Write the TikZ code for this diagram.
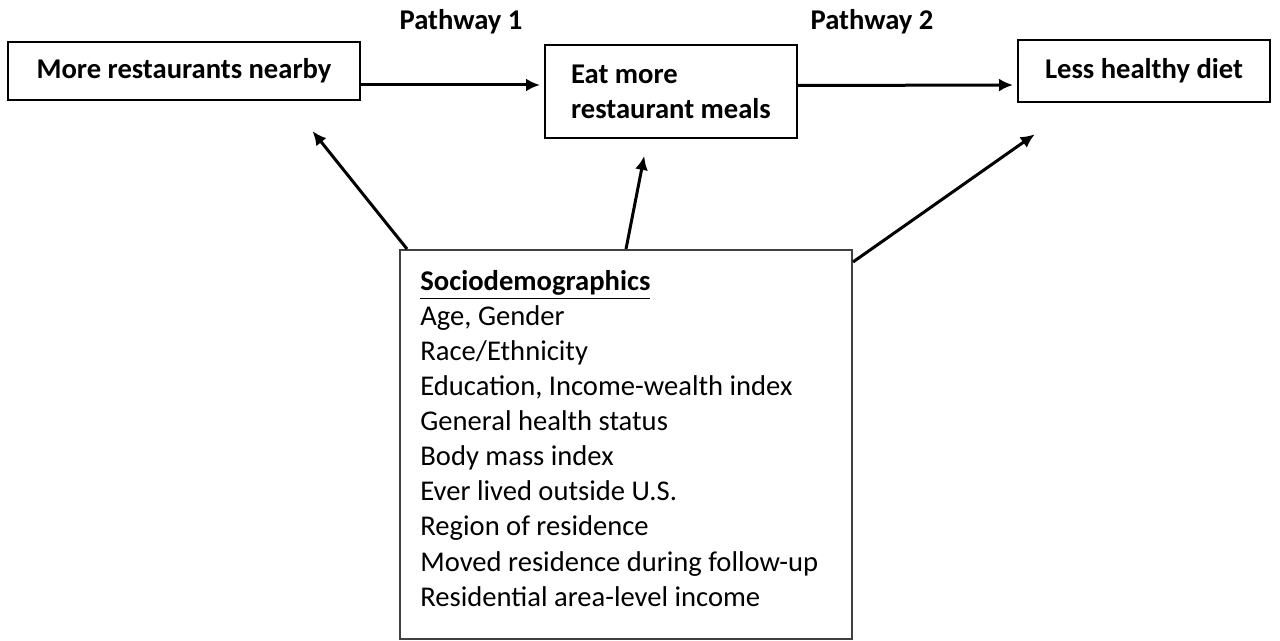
\documentclass[tikz,border=0pt]{standalone}
\usepackage{fontspec}
\setmainfont{Carlito}
\usepackage{tikz}
\usetikzlibrary{arrows.meta}

\tikzset{
  box/.style={draw, line width=1pt, inner sep=0pt, font=\fontsize{14.3}{17.5}\selectfont\bfseries},
  arr/.style={->, >={Latex[length=7pt,width=6.5pt]}, line width=1.5pt, shorten >=2pt}
}

\begin{document}
\begin{tikzpicture}[x=0.5pt, y=-0.5pt, font=\fontsize{14.3}{17.5}\selectfont]
    \def \gap {35} % distance between list lines
    \useasboundingbox (0,0) rectangle (1280,641);
    % top row
    \node[box, minimum width=176pt, minimum height=29pt] (near) at (184,71) {More restaurants nearby};
    \node[box, minimum width=126pt, minimum height=46.5pt, align=left] (meals) at (671,91.5) {Eat more\\restaurant meals};
    \node[box, minimum width=126pt, minimum height=31pt] (diet) at (1144,71) {Less healthy diet};
    \node[font=\fontsize{14.3}{17.5}\selectfont\bfseries] (pw1) at (461,22) {Pathway 1};
    \node[font=\fontsize{14.3}{17.5}\selectfont\bfseries] (pw2) at (872,22) {Pathway 2};
    % covariates
    \node[draw=black!75, line width=1pt, minimum width=226pt, minimum height=194.5pt] (soc) at (626,444.5) {};
    \foreach \t [count=\i from 0] in {\textbf{\underline{Sociodemographics}}, {Age, Gender}, Race/Ethnicity,
        {Education, Income-wealth index}, General health status, Body mass index,
        Ever lived outside U.S., Region of residence, Moved residence during follow-up,
        Residential area-level income}
    {
      \node[anchor=base west, inner sep=0pt] (l\i) at (420,{291 + \gap*\i}) {\t};
    }
    \coordinate (nearend) at (310,128);
    \coordinate (mealsend) at (645,152);
    \coordinate (dietend) at (1038,132);
    % pathways
    \draw[arr] ([yshift=-7pt]near.east) -- ([yshift=3.25pt]meals.west);
    \draw[arr] ([yshift=3pt]meals.east) -- ([yshift=-7pt]diet.west);
    % confounders
    \draw[arr] ([xshift=4pt]soc.north west) -- (nearend);
    \draw[arr] (soc.north) -- (mealsend);
    \draw[arr] ([yshift=-6.5pt]soc.north east) -- (dietend);
\end{tikzpicture}
\end{document}
